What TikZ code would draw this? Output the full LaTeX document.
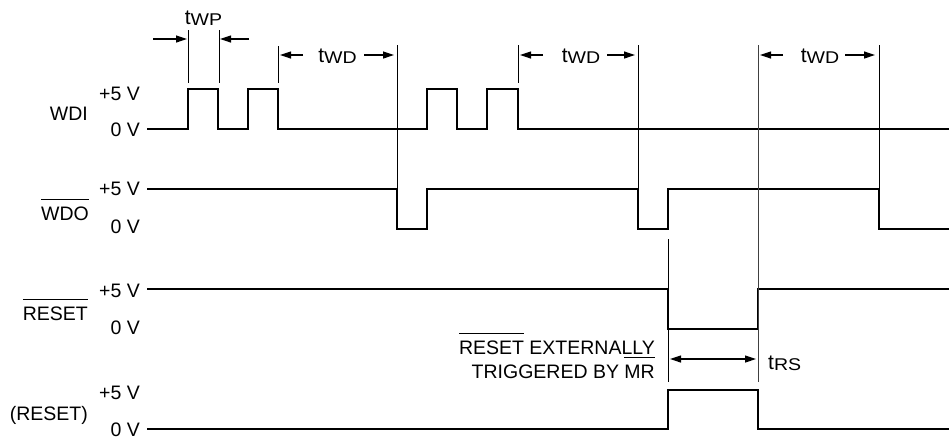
\documentclass[tikz,border=0pt]{standalone}
\usepackage{fontspec}
\setmainfont{Liberation Sans}
\usetikzlibrary{arrows.meta}
\newcommand\ovl[1]{\setbox0\hbox{#1}\rlap{\rule[1.04em]{\wd0}{0.9pt}}\box0\relax}
\newcommand\tsub[1]{{\fontsize{21}{22}\selectfont t}\raisebox{-1.5pt}{\scalebox{1.15}[1]{\fontsize{17}{18}\selectfont #1}}}
\tikzset{
  sig/.style={line width=2.4pt, line join=miter, line cap=rect},
  guide/.style={line width=1pt},
  dim/.style={line width=1.2pt, -{Triangle[length=11pt,width=7pt]}},
  dimboth/.style={line width=1.2pt, {Triangle[length=11pt,width=7pt]}-{Triangle[length=11pt,width=7pt]}},
  lbl/.style={anchor=base east, inner sep=0pt},
  tlbl/.style={anchor=base, inner sep=0pt},
}
\begin{document}
\begin{tikzpicture}[x=1pt,y=-1pt,font=\fontsize{19.5}{24}\selectfont]
\useasboundingbox (0,0) rectangle (949,440);
% signal names
\node[lbl] (nwdi) at (88,120) {WDI};
\node[lbl] (nwdo) at (89,220) {\ovl{WDO}};
\node[lbl] (nrst) at (88,320) {\ovl{RESET}};
\node[lbl] (nrs2) at (88,420) {(RESET)};
% levels
\node[lbl] (h1) at (140,100) {+5 V};
\node[lbl] (l1) at (140,136) {0 V};
\node[lbl] (h2) at (140,195) {+5 V};
\node[lbl] (l2) at (140,233) {0 V};
\node[lbl] (h3) at (140,297) {+5 V};
\node[lbl] (l3) at (140,334) {0 V};
\node[lbl] (h4) at (140,399) {+5 V};
\node[lbl] (l4) at (140,436) {0 V};
% traces
\draw[sig] (148,129) -- (188,129) -- (188,89) -- (218,89) -- (218,129) -- (248,129) -- (248,89) -- (278,89) -- (278,129)
  -- (427,129) -- (427,89) -- (457,89) -- (457,129) -- (487,129) -- (487,89) -- (518,89) -- (518,129) -- (949,129);
\draw[sig] (148,189) -- (397,189) -- (397,229) -- (427,229) -- (427,189) -- (638,189) -- (638,229) -- (668,229) -- (668,189)
  -- (879,189) -- (879,229) -- (949,229);
\draw[sig] (148,289) -- (668,289) -- (668,329) -- (758,329) -- (758,289) -- (949,289);
\draw[sig] (148,429) -- (668,429) -- (668,390) -- (758,390) -- (758,429) -- (949,429);
% guides
\draw[guide] (188,30) -- (188,83);
\draw[guide] (219,30) -- (219,83);
\draw[guide] (278,46) -- (278,83);
\draw[guide] (397,45) -- (397,189);
\draw[guide] (518,45) -- (518,83);
\draw[guide] (638,45) -- (638,189);
\draw[guide] (668,239) -- (668,382);
\draw[guide, black!75] (758,45) -- (758,382);
\draw[guide] (879,45) -- (879,189);
% tWP
\node[tlbl] (twp) at (203.5,24) {\tsub{WP}};
\draw[dim] (153,39) -- (187,39);
\draw[dim] (249,39) -- (220,39);
% tWD intervals
\node[tlbl] (twd1) at (337.5,62) {\tsub{WD}};
\draw[dim] (303,55) -- (280,55);
\draw[dim] (364,55) -- (394,55);
\node[tlbl] (twd2) at (581,62) {\tsub{WD}};
\draw[dim] (543,55) -- (520,55);
\draw[dim] (607,55) -- (635,55);
\node[tlbl] (twd3) at (820,62) {\tsub{WD}};
\draw[dim] (783,55) -- (760,55);
\draw[dim] (845,55) -- (875,55);
% tRS
\draw[dimboth] (670,359) -- (756,359);
\node[anchor=base west, inner sep=0pt] (trs) at (768,369) {\tsub{RS}};
% note
\node[lbl] (note1) at (655,354) {\ovl{RESET} EXTERNALLY};
\node[lbl] (note2) at (655,378) {TRIGGERED BY \ovl{MR}};
\end{tikzpicture}
\end{document}
